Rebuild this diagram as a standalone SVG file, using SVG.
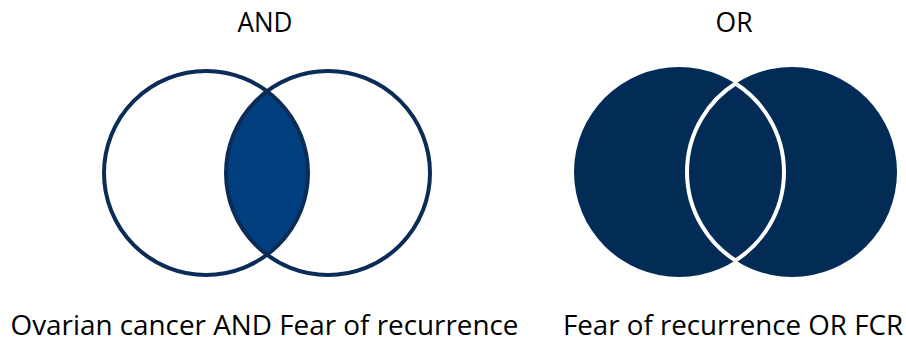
<svg xmlns="http://www.w3.org/2000/svg" width="906" height="342" viewBox="0 0 906 342">
<style>
.t{font-family:"Open Sans","Noto Sans","Liberation Sans",sans-serif;font-size:27px;fill:#000;text-anchor:middle}
.ring{fill:none;stroke:#0A2C57;stroke-width:4}
.navy{fill:#022B55}
</style>
<rect width="906" height="342" fill="#fff"/>
<g id="and-title"><text class="t" x="265" y="32" textLength="55" lengthAdjust="spacingAndGlyphs">AND</text></g>
<g id="or-title"><text class="t" x="734" y="32" textLength="37" lengthAdjust="spacingAndGlyphs">OR</text></g>
<g id="and-venn">
  <path d="M267 91.3 A102 102 0 0 1 267 254.7 A102 102 0 0 1 267 91.3 Z" fill="#013F7F"/>
  <circle class="ring" cx="206" cy="173" r="102"/>
  <circle class="ring" cx="328" cy="173" r="102"/>
</g>
<g id="or-venn">
  <circle class="navy" cx="679" cy="172" r="105"/>
  <circle class="navy" cx="792" cy="172" r="105"/>
  <path d="M735.5 83.5 A105 105 0 0 1 735.5 260.5 A105 105 0 0 1 735.5 83.5 Z" fill="none" stroke="#fff" stroke-width="4"/>
</g>
<g id="and-label"><text class="t" x="264.5" y="335" textLength="508" lengthAdjust="spacingAndGlyphs">Ovarian cancer AND Fear of recurrence</text></g>
<g id="or-label"><text class="t" x="733" y="335" textLength="340" lengthAdjust="spacingAndGlyphs">Fear of recurrence OR FCR</text></g>
<g id="connectors"></g>
</svg>
